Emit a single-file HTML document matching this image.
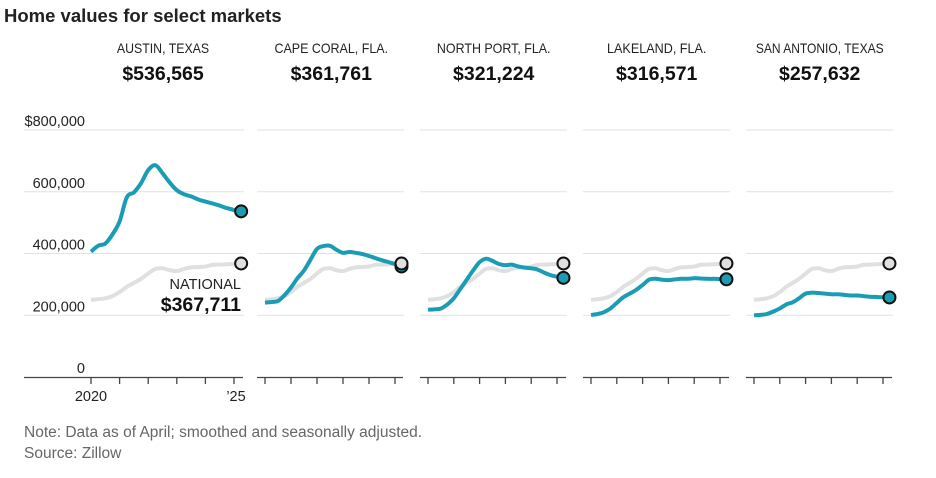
<!DOCTYPE html>
<html><head><meta charset="utf-8"><style>
body{margin:0;background:#fff;}
svg{display:block;font-family:"Liberation Sans",sans-serif;}
</style></head><body>
<svg id="chart" width="936" height="478" viewBox="0 0 936 478">
<text x="4" y="22" font-size="18.5" font-weight="bold" fill="#222">Home values for select markets</text>
<g id="panels"></g>
<text x="24" y="437" font-size="15.5" fill="#666">Note: Data as of April; smoothed and seasonally adjusted.</text>
<text x="24" y="458" font-size="15.5" fill="#666">Source: Zillow</text>
</svg>
<script>
// quarterly points from 2020.0 to 2025.25 (values in $ thousands)
const quarters = [0,0.25,0.5,0.75,1,1.25,1.5,1.75,2,2.25,2.5,2.75,3,3.25,3.5,3.75,4,4.25,4.5,4.75,5,5.25];
const cities = ["AUSTIN, TEXAS","CAPE CORAL, FLA.","NORTH PORT, FLA.","LAKELAND, FLA.","SAN ANTONIO, TEXAS"];
const cityLabels = ["$536,565","$361,761","$321,224","$316,571","$257,632"];
const national = [250,252,255,262,275,292,305,318,335,350,352,346,343,350,355,356,358,363,364,365,366,367.7];
const austin = [406,425,432,462,504,582,598,628,670,686,660,630,605,592,585,575,568,562,555,547,541,536.6];
const capeCoral = [241,243,246,265,290,320,345,380,415,424,425,412,402,405,402,398,392,385,378,372,366,358];
const northPort = [218,219,222,235,255,285,315,345,372,383,376,366,362,364,358,354,352,348,338,330,325,321.2];
const lakeland = [201,204,210,222,240,258,270,282,298,315,318,315,314,316,318,318,320,319,318,318,317,316.6];
const sanAntonio = [200,201,204,212,222,235,242,255,270,273,272,270,268,268,266,264,264,262,260,259,258,257.6];
const yTicks = [0,200,400,600,800];
const yTickLabels = ["0","200,000","400,000","600,000","$800,000"];
const nationalLabel = "$367,711";
const series = [austin,capeCoral,northPort,lakeland,sanAntonio];

const NS="http://www.w3.org/2000/svg";
const g=document.getElementById('panels');
const layout=[{x0:91,yr:28.6,a:24,b:243},{x0:265,yr:26,a:257,b:403},{x0:428,yr:25.8,a:420,b:566},{x0:591,yr:25.8,a:583,b:729},{x0:754,yr:25.8,a:746,b:892}];
function yS(v){return 377-v*(247/800);}
function mk(tag,attrs,parent){const e=document.createElementNS(NS,tag);for(const k in attrs)e.setAttribute(k,attrs[k]);(parent||g).appendChild(e);return e;}
function path(pts){let d="M"+pts[0][0]+","+pts[0][1];for(let i=0;i<pts.length-1;i++){const p0=pts[i-1]||pts[i],p1=pts[i],p2=pts[i+1],p3=pts[i+2]||p2;const c1x=p1[0]+(p2[0]-p0[0])/6,c1y=p1[1]+(p2[1]-p0[1])/6,c2x=p2[0]-(p3[0]-p1[0])/6,c2y=p2[1]-(p3[1]-p1[1])/6;d+=" C"+c1x.toFixed(1)+","+c1y.toFixed(1)+" "+c2x.toFixed(1)+","+c2y.toFixed(1)+" "+p2[0].toFixed(1)+","+p2[1].toFixed(1);}return d;}
layout.forEach((L,i)=>{
  const xS=t=>L.x0+t*L.yr;
  const cx=(L.x0+xS(5.25))/2;
  let t=mk('text',{x:i===0?163:cx-2,y:53,'font-size':14,'text-anchor':'middle',fill:'#222',textLength:cities[i].length*7.1,lengthAdjust:'spacingAndGlyphs'});t.textContent=cities[i];
  
  
  t=mk('text',{x:i===0?163:cx-2,y:80,'font-size':19.5,'font-weight':'bold','text-anchor':'middle',fill:'#111'});t.textContent=cityLabels[i];
  
  
  yTicks.forEach((v,j)=>{
    if(v>0){const l=mk('line',{x1:L.a,x2:L.b+1,y1:yS(v),y2:yS(v),stroke:'#e2e2e2','stroke-width':1});
      
      }
    if(i===0){const tx=mk('text',{x:85,y:yS(v)-4,'font-size':14.5,'text-anchor':'end',fill:'#222'});tx.textContent=yTickLabels[j];
      
      }
  });
  const ax=mk('line',{x1:L.a,x2:L.b,y1:377.5,y2:377.5,stroke:'#444','stroke-width':1.3});
  
  
  for(let k=0;k<=5;k++){const tk=mk('line',{x1:xS(k),x2:xS(k),y1:377,y2:384,stroke:'#444','stroke-width':1.3});
    
    }
  if(i===0){
    let a=mk('text',{x:xS(0),y:401,'font-size':14.5,'text-anchor':'middle',fill:'#222'});a.textContent="2020";
    
    
    a=mk('text',{x:xS(5)+2,y:401,'font-size':14.5,'text-anchor':'middle',fill:'#222'});a.textContent="’25";
    
    
    a=mk('text',{x:241,y:289,'font-size':14.5,'text-anchor':'end',fill:'#222'});a.textContent="NATIONAL";
    
    
    a=mk('text',{x:241,y:311,'font-size':19.5,'font-weight':'bold','text-anchor':'end',fill:'#111'});a.textContent=nationalLabel;
    
    
  }
  const np=quarters.map((q,k)=>[xS(q),yS(national[k])]);
  const nl=mk('path',{d:path(np),fill:'none',stroke:'#e0e0e0','stroke-width':4,'stroke-linejoin':'round'});
  
  
  const data=series[i];
  const cp=quarters.map((q,k)=>[xS(q),yS(data[k])]);
  const cl=mk('path',{d:path(cp),fill:'none',stroke:'#1a9db4','stroke-width':4,'stroke-linejoin':'round'});
  
  
  const last=quarters.length-1;
  const c2=mk('circle',{cx:cp[last][0],cy:cp[last][1],r:6,fill:'#1a9db4',stroke:'#111','stroke-width':2});
  
  
  const c1=mk('circle',{cx:np[last][0],cy:np[last][1],r:6,fill:'#e0e0e0',stroke:'#111','stroke-width':2});
  
  
});
</script>
</body></html>
